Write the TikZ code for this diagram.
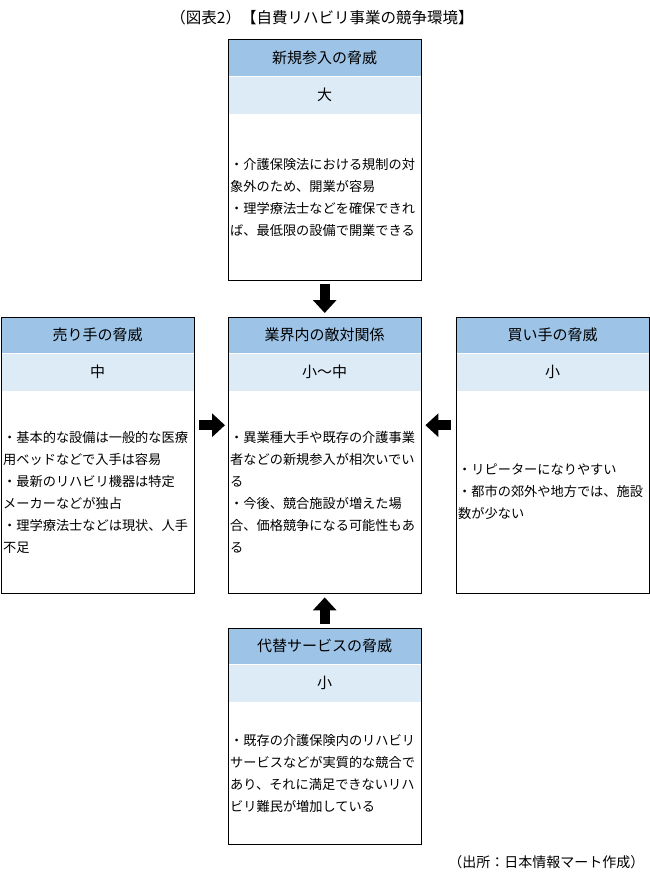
\documentclass[tikz,border=0pt]{standalone}
\usepackage{fontspec}
\setmainfont{Noto Sans CJK JP}
\usetikzlibrary{arrows.meta}

\definecolor{headblue}{RGB}{157,195,230}
\definecolor{levelblue}{RGB}{221,235,247}

\tikzset{
  frame/.style={inner sep=0pt, minimum width=193pt, anchor=north west},
  head/.style={fill=headblue, inner sep=0pt, minimum width=193pt, minimum height=36pt, font=\fontsize{15}{18}\selectfont},
  level/.style={fill=levelblue, inner sep=0pt, minimum width=193pt, minimum height=37pt, font=\fontsize{15}{18}\selectfont},
  body/.style={inner sep=2pt, text width=189pt, align=left, font=\fontsize{13.2}{22}\selectfont},
  blockarrow/.style={line width=10pt, -{Triangle[width=23pt,length=13pt]}}
}

% box: name, x, y, height, title, level, text
\newcommand{\forcebox}[7]{%
  \node[frame, minimum height=#4pt] (#1) at (#2,#3) {};
  \node[head, anchor=north] (#1-head) at (#1.north) {#5};
  \node[level, anchor=north] (#1-level) at (#1-head.south) {#6};
  \path (#1-level.south) -- node[body] (#1-text) {#7} (#1.south);
  \draw[line width=1pt] (#1.north west) rectangle (#1.south east);
}

\begin{document}
\begin{tikzpicture}[x=1pt, y=-1pt]
    \useasboundingbox (0,0) rectangle (649,875);
    \node[font=\fontsize{15.5}{18}\selectfont] (title) at (322,18) {（図表2）【自費リハビリ事業の競争環境】};
    \forcebox{newent}{228}{40}{240}{新規参入の脅威}{大}{・介護保険法における規制の対\\象外のため、開業が容易\\・理学療法士などを確保できれ\\ば、最低限の設備で開業できる}
    \forcebox{rivalry}{228}{317}{276}{業界内の敵対関係}{小～中}{・異業種大手や既存の介護事業\\者などの新規参入が相次いでい\\る\\・今後、競合施設が増えた場\\合、価格競争になる可能性もあ\\る}
    \forcebox{suppliers}{1}{317}{276}{売り手の脅威}{中}{・基本的な設備は一般的な医療\\用ベッドなどで入手は容易\\・最新のリハビリ機器は特定\\メーカーなどが独占\\・理学療法士などは現状、人手\\不足}
    \forcebox{buyers}{456}{317}{276}{買い手の脅威}{小}{・リピーターになりやすい\\・都市の郊外や地方では、施設\\数が少ない}
    \forcebox{substitutes}{228}{628}{216}{代替サービスの脅威}{小}{・既存の介護保険内のリハビリ\\サービスなどが実質的な競合で\\あり、それに満足できないリハ\\ビリ難民が増加している}
    \draw[blockarrow, shorten <=4pt, shorten >=4pt] (newent.south) -- (rivalry.north);
    \draw[blockarrow, shorten <=4pt, shorten >=4pt] (substitutes.north) -- (rivalry.south);
    \draw[blockarrow, shorten <=5pt, shorten >=3pt] ([yshift=30pt]suppliers.east) -- ([yshift=30pt]rivalry.west);
    \draw[blockarrow, shorten <=5pt, shorten >=4pt] ([yshift=30pt]buyers.west) -- ([yshift=30pt]rivalry.east);
    \node[anchor=east, font=\fontsize{14}{16}\selectfont] (source) at (648,862) {（出所：日本情報マート作成）};
\end{tikzpicture}
\end{document}
